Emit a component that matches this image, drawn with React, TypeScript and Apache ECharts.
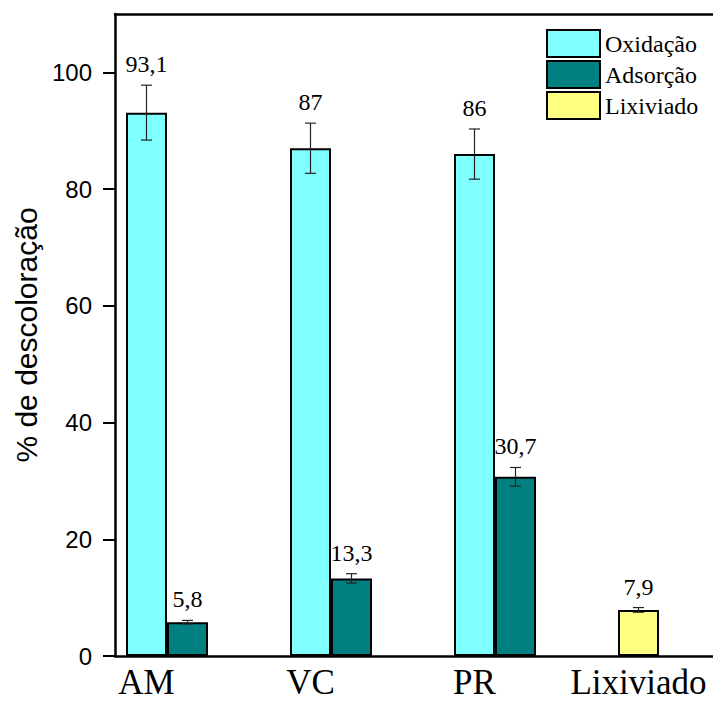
import React, { useEffect, useRef } from "react";
import * as echarts from "echarts";

const categories = ["AM", "VC", "PR", "Lixiviado"];
const oxidacao = [93.1, 87, 86, null];
const oxidacaoErr = [4.7, 4.3, 4.3, null];
const adsorcao = [5.8, 13.3, 30.7, null];
const adsorcaoErr = [0.3, 0.8, 1.6, null];
const lixiviado = [null, null, null, 7.9];
const lixiviadoErr = [null, null, null, 0.4];
const yTicks = [0, 20, 40, 60, 80, 100];
const yMinorTicks = [0, 10, 20, 30, 40, 50, 60, 70, 80, 90, 100, 110];

const SERIF = "Liberation Serif";
const SANS = "Liberation Sans";

export default function App() {
  const ref = useRef<HTMLDivElement>(null);
  useEffect(() => {
    if (!ref.current) return;
    const chart = echarts.init(ref.current, null, { renderer: "svg" });

    // error bar items: [categoryIndex, value, err, slot]
    const errData: number[][] = [];
    oxidacao.forEach((v, i) => {
      if (v != null && oxidacaoErr[i] != null) errData.push([i, v, oxidacaoErr[i] as number, -1]);
    });
    adsorcao.forEach((v, i) => {
      if (v != null && adsorcaoErr[i] != null) errData.push([i, v, adsorcaoErr[i] as number, 1]);
    });
    lixiviado.forEach((v, i) => {
      if (v != null && lixiviadoErr[i] != null) errData.push([i, v, lixiviadoErr[i] as number, -1]);
    });

    const barBorder = { borderColor: "#000", borderWidth: 2 };
    const frameLine = { show: true, onZero: false, lineStyle: { color: "#000", width: 2.5 } };

    const option: any = {
      animation: false,
      backgroundColor: "#fff",
      grid: [
        { left: 85, right: -28, top: 14, bottom: 45, outerBoundsMode: "none", containLabel: false },
        { left: 115, right: -28, top: 14, bottom: 45, outerBoundsMode: "none", containLabel: false },
      ],
      legend: {
        data: ["Oxidação", "Adsorção", "Lixiviado"],
        orient: "vertical",
        left: 546,
        top: 29,
        padding: 0,
        itemWidth: 53,
        itemHeight: 27,
        itemGap: 2,
        icon: "rect",
        itemStyle: { borderColor: "#000", borderWidth: 2 },
        textStyle: { fontFamily: SERIF, fontSize: 24, color: "#000" },
      },
      xAxis: [
        {
          type: "category",
          gridIndex: 0,
          data: categories,
          axisLine: { show: false },
          axisTick: { show: false },
          axisLabel: {
            interval: 0,
            fontFamily: SERIF,
            fontSize: 35,
            color: "#000",
            margin: 9,
            padding: [0, 41, 0, 0],
          },
        },
        {
          type: "value",
          gridIndex: 1,
          position: "bottom",
          min: 0,
          max: 1,
          axisLine: frameLine,
          axisTick: { show: false },
          axisLabel: { show: false },
          splitLine: { show: false },
        },
        {
          type: "value",
          gridIndex: 1,
          position: "top",
          min: 0,
          max: 1,
          axisLine: frameLine,
          axisTick: { show: false },
          axisLabel: { show: false },
          splitLine: { show: false },
        },
      ],
      yAxis: [
        { type: "value", gridIndex: 0, min: 0, max: 110, show: false },
        {
          type: "value",
          gridIndex: 1,
          min: 0,
          max: 110,
          interval: 20,
          axisLine: frameLine,
          axisTick: {
            show: true,
            inside: false,
            length: 12,
            lineStyle: { color: "#000", width: 2 },
            customValues: yTicks,
          },
          axisLabel: {
            fontFamily: SANS,
            fontSize: 24,
            color: "#000",
            margin: 23,
            customValues: yTicks,
          },
          splitLine: { show: false },
          name: "% de descoloração",
          nameLocation: "middle",
          nameGap: 73,
          nameTextStyle: { fontFamily: SANS, fontSize: 30, color: "#000" },
        },
        {
          type: "value",
          gridIndex: 1,
          min: 0,
          max: 110,
          interval: 10,
          axisLine: { show: false, onZero: false },
          axisTick: {
            show: true,
            inside: false,
            length: 7,
            lineStyle: { color: "#000", width: 2 },
            customValues: yMinorTicks,
          },
          axisLabel: { show: false },
          splitLine: { show: false },
        },
      ],
      series: [
        {
          name: "Oxidação",
          type: "bar",
          xAxisIndex: 0,
          yAxisIndex: 0,
          stack: "ox",
          barWidth: "25%",
          barGap: "0%",
          data: oxidacao,
          itemStyle: { color: "#80FFFF", ...barBorder },
        },
        {
          name: "Adsorção",
          type: "bar",
          xAxisIndex: 0,
          yAxisIndex: 0,
          barWidth: "25%",
          barGap: "0%",
          data: adsorcao,
          itemStyle: { color: "#008080", ...barBorder },
        },
        {
          name: "Lixiviado",
          type: "bar",
          xAxisIndex: 0,
          yAxisIndex: 0,
          stack: "ox",
          barWidth: "25%",
          barGap: "0%",
          data: lixiviado,
          itemStyle: { color: "#FFFF80", ...barBorder },
        },
        {
          type: "custom",
          xAxisIndex: 0,
          yAxisIndex: 0,
          z: 10,
          silent: true,
          encode: { x: 0, y: 1 },
          data: errData,
          renderItem: (params: any, api: any) => {
            const ci = api.value(0);
            const v = api.value(1);
            const e = api.value(2);
            const slot = api.value(3);
            const band = api.size([1, 0])[0];
            const dx = slot * band * 0.125;
            const top = api.coord([ci, v + e]);
            const bot = api.coord([ci, v - e]);
            const x = top[0] + dx;
            const hw = 5.5;
            const stroke = { stroke: "#222", lineWidth: 1.2 };
            return {
              type: "group",
              children: [
                { type: "line", shape: { x1: x, y1: top[1], x2: x, y2: bot[1] }, style: stroke },
                { type: "line", shape: { x1: x - hw, y1: top[1], x2: x + hw, y2: top[1] }, style: stroke },
                { type: "line", shape: { x1: x - hw, y1: bot[1], x2: x + hw, y2: bot[1] }, style: stroke },
                {
                  type: "text",
                  x: x,
                  y: top[1] - 21,
                  style: {
                    text: String(v).replace(".", ","),
                    fill: "#000",
                    fontFamily: SERIF,
                    fontSize: 24,
                    align: "center",
                    verticalAlign: "middle",
                  },
                },
              ],
            };
          },
        },
      ],
    };
    chart.setOption(option);
    return () => chart.dispose();
  }, []);

  return (
    <div
      ref={ref}
      style={{ position: "fixed", left: 0, top: 0, width: 713, height: 701 }}
    />
  );
}
